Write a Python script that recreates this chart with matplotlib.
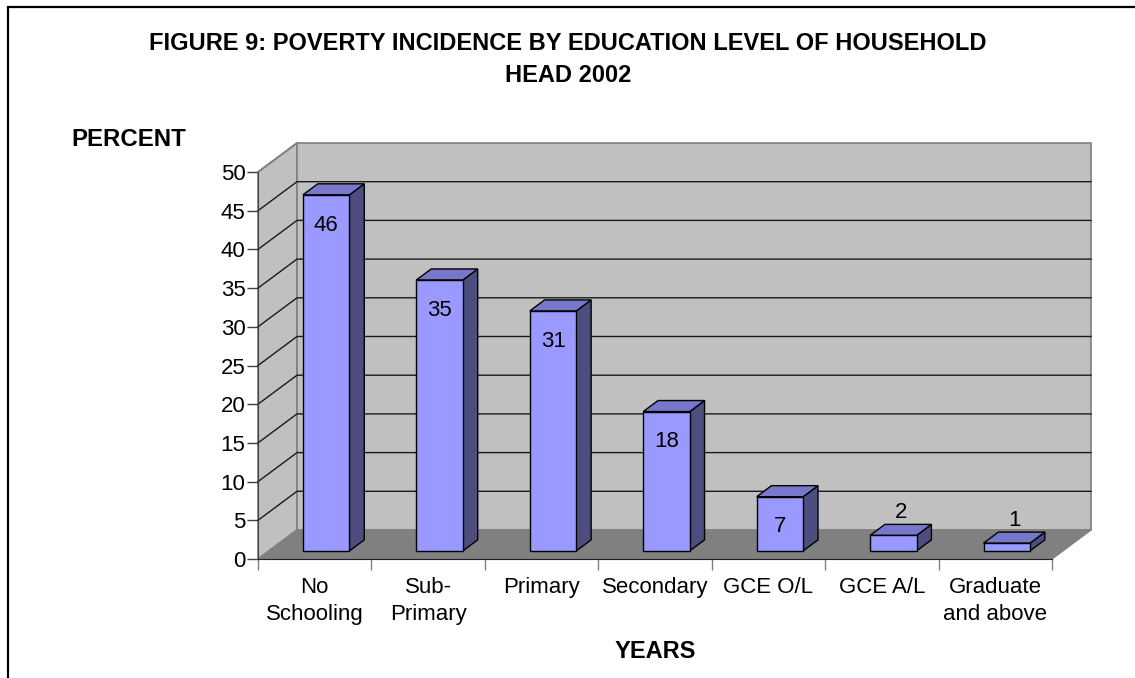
import matplotlib
matplotlib.use("Agg")
import matplotlib.pyplot as plt
from matplotlib.patches import Polygon, Rectangle

plt.rcParams['font.family'] = ['Liberation Sans', 'DejaVu Sans']

categories = ["No\nSchooling", "Sub-\nPrimary", "Primary", "Secondary",
              "GCE O/L", "GCE A/L", "Graduate\nand above"]
values = [46, 35, 31, 18, 7, 2, 1]
yticks = list(range(0, 51, 5))
title_lines = ["FIGURE 9: POVERTY INCIDENCE BY EDUCATION LEVEL OF HOUSEHOLD", "HEAD 2002"]
ylabel = "PERCENT"
xlabel = "YEARS"

W, H = 1135, 678
fig = plt.figure(figsize=(W / 100, H / 100), dpi=100)
fig.patch.set_facecolor("white")

# figure border (left & top visible)
fig.patches.append(Rectangle((8 / W, -0.05), 1.2, 1 - 7 / H + 0.05, transform=fig.transFigure,
                             fill=False, edgecolor="black", linewidth=1.6, figure=fig))

x0p, x1p, y0p, y1p = 258, 1052, 559, 172
ax = fig.add_axes([x0p / W, 1 - y0p / H, (x1p - x0p) / W, (y0p - y1p) / H])
n = len(values)
ymax = 50
ax.set_xlim(0, n)
ax.set_ylim(0, ymax)
ax.set_facecolor("none")

# depth offset in data units
DX = 39 / ((x1p - x0p) / n)
DY = 29 / ((y0p - y1p) / ymax)

wall_c = "#C0C0C0"
floor_c = "#808080"
edge_c = "#808080"
grid_c = "#1a1a1a"

# side wall
ax.add_patch(Polygon([(0, 0), (DX, DY), (DX, ymax + DY), (0, ymax)], closed=True,
                     facecolor=wall_c, edgecolor=edge_c, lw=1.2, clip_on=False, zorder=1))
# back wall
ax.add_patch(Polygon([(DX, DY), (n + DX, DY), (n + DX, ymax + DY), (DX, ymax + DY)], closed=True,
                     facecolor=wall_c, edgecolor=edge_c, lw=1.2, clip_on=False, zorder=1))
# gridlines
for t in yticks[1:-1]:
    ax.plot([0, DX, n + DX], [t, t + DY, t + DY], color=grid_c, lw=1.0, clip_on=False, zorder=2)
ax.plot([0, DX], [ymax, ymax + DY], color=edge_c, lw=1.2, clip_on=False, zorder=2)
# floor
ax.add_patch(Polygon([(0, 0), (n, 0), (n + DX, DY), (DX, DY)], closed=True,
                     facecolor=floor_c, edgecolor=edge_c, lw=1.0, clip_on=False, zorder=3))

# bars
front_c, top_c, side_c = "#9999FF", "#7777CC", "#4D4D80"
bx0, bx1 = 0.30, 0.71
d0, d1 = 0.28, 0.66
for i, v in enumerate(values):
    fx0 = i + bx0 + d0 * DX
    fx1 = i + bx1 + d0 * DX
    fy0 = d0 * DY
    fy1 = v + d0 * DY
    ox, oy = (d1 - d0) * DX, (d1 - d0) * DY
    ax.add_patch(Polygon([(fx1, fy0), (fx1 + ox, fy0 + oy), (fx1 + ox, fy1 + oy), (fx1, fy1)],
                         closed=True, facecolor=side_c, edgecolor="black", lw=1.0, clip_on=False, zorder=4))
    ax.add_patch(Polygon([(fx0, fy1), (fx1, fy1), (fx1 + ox, fy1 + oy), (fx0 + ox, fy1 + oy)],
                         closed=True, facecolor=top_c, edgecolor="black", lw=1.0, clip_on=False, zorder=4))
    ax.add_patch(Polygon([(fx0, fy0), (fx1, fy0), (fx1, fy1), (fx0, fy1)],
                         closed=True, facecolor=front_c, edgecolor="black", lw=1.0, clip_on=False, zorder=5))
    if v >= 5:
        ax.text((fx0 + fx1) / 2, fy1 - 3.9, str(v), ha="center", va="center", fontsize=16, zorder=6)
    else:
        ax.text((fx0 + fx1) / 2 + ox / 2, fy1 + 2.9, str(v), ha="center", va="center", fontsize=16, zorder=6)

# axes styling
for s in ["top", "right"]:
    ax.spines[s].set_visible(False)
ax.spines["left"].set_color("#404040")
ax.spines["bottom"].set_color("#202020")
ax.spines["left"].set_zorder(7)
ax.spines["bottom"].set_zorder(7)
ax.set_yticks(yticks)
ax.set_yticklabels([str(t) for t in yticks], fontsize=16)
ax.tick_params(axis="y", length=8, width=1, color="#404040", pad=1)
ax.set_xticks(range(0, n + 1))
ax.set_xticklabels([])
ax.tick_params(axis="x", which="major", length=8, width=1, color="#808080")
ax.set_xticks([i + 0.5 for i in range(n)], minor=True)
ax.set_xticklabels(categories, minor=True, fontsize=16, linespacing=1.4)
ax.tick_params(axis="x", which="minor", length=0, pad=13)

fig.text(568 / W, 1 - 44 / H, title_lines[0], ha="center", va="center", fontsize=17,
         fontweight="bold")
fig.text(568 / W, 1 - 76 / H, title_lines[1], ha="center", va="center", fontsize=17,
         fontweight="bold")
fig.text(129 / W, 1 - 139 / H, ylabel, ha="center", va="center", fontsize=17.3, fontweight="bold")
fig.text(655 / W, 1 - 651 / H, xlabel, ha="center", va="center", fontsize=17, fontweight="bold")

fig.savefig("out.png", dpi=100)
